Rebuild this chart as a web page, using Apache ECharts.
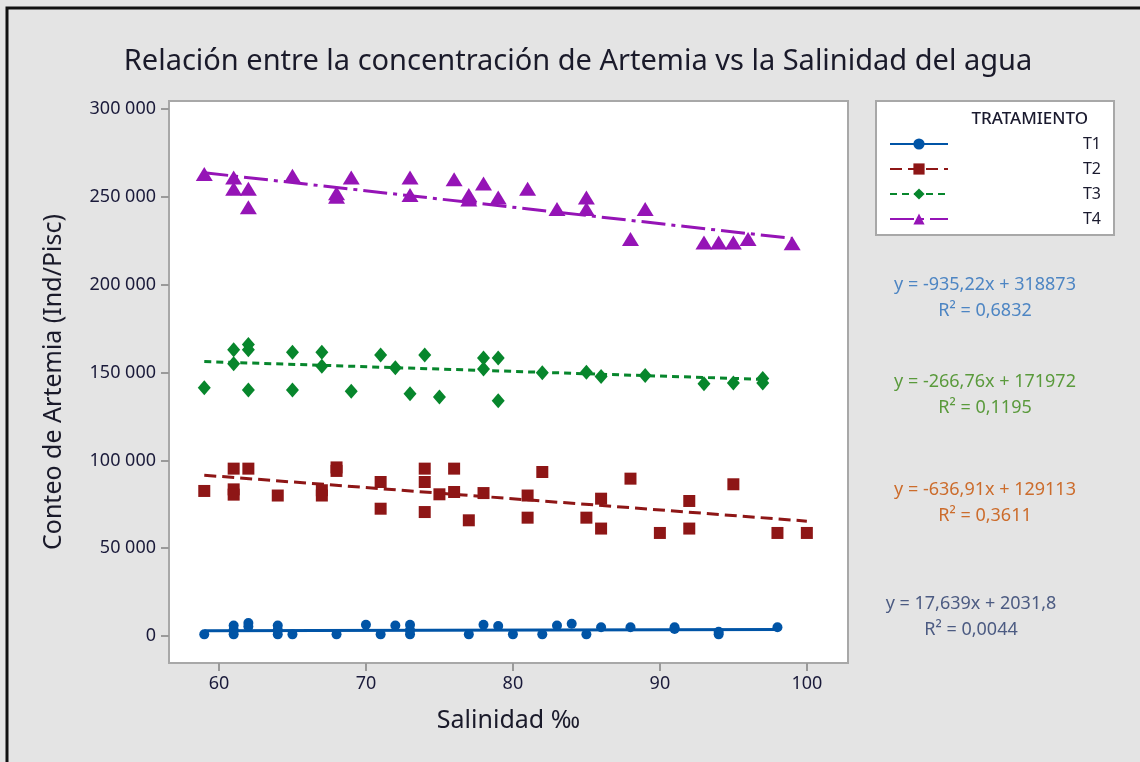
<!DOCTYPE html>
<html>
<head>
<meta charset="utf-8">
<script src="https://cdn.jsdelivr.net/npm/echarts@6/dist/echarts.min.js"></script>
<style>
  html, body { margin: 0; padding: 0; background: #e4e4e4; }
  #chart { width: 1140px; height: 762px; }
</style>
</head>
<body>
<div id="chart"></div>
<script>
// tratamientos
var names = ['T1', 'T2', 'T3', 'T4'];

// T1: [salinidad, conteo]
var t1 = [[59,1000],[61,6000],[61,3500],[61,1000],[62,7500],[62,5500],[64,6000],[64,3500],[64,1000],
  [65,1000],[68,1000],[70,6500],[71,1000],[72,6000],[73,6500],[73,3500],[73,1000],[77,1000],[78,6500],
  [79,5800],[80,1000],[82,1000],[83,6000],[84,7000],[85,1000],[86,5000],[88,5000],[91,5000],[91,4000],
  [94,2500],[94,1000],[98,5000]];
var t2 = [[59,82600],[61,95300],[61,83500],[61,80500],[62,95300],[64,80000],[67,83000],[67,80000],
  [68,96000],[68,94000],[71,87700],[71,72500],[74,95300],[74,87700],[74,70600],[75,80700],[76,95300],
  [76,82000],[77,65900],[78,81400],[81,80000],[81,67400],[82,93400],[85,67400],[86,78200],[86,61200],
  [88,89600],[90,58700],[92,76900],[92,61200],[95,86400],[98,58700],[100,58700]];
var t3 = [[59,141300],[61,163000],[61,155000],[62,166000],[62,163000],[62,140000],[65,161500],[65,140000],
  [67,161500],[67,153600],[69,139400],[71,160000],[72,152700],[73,137900],[74,160000],[75,136000],
  [78,158300],[78,152000],[79,158300],[79,134000],[82,149800],[85,150200],[86,147700],[89,148300],
  [93,143600],[95,144000],[97,146600],[97,144000]];
var t4 = [[59,263000],[61,261000],[61,254500],[62,254500],[62,244000],[65,262000],[68,252000],[68,250000],
  [69,261000],[73,261000],[73,251000],[76,260000],[77,251000],[77,248500],[78,257600],[79,249600],
  [81,254500],[83,243000],[85,249600],[85,243000],[88,226000],[89,243000],[93,224000],[94,224000],
  [95,224000],[96,226000],[99,223500]];

// ajuste lineal de cada tratamiento
var slope = [17.639, -636.91, -266.76, -935.22];
var intercept = [2031.8, 129113, 171972, 318873];
var r2 = ['0,0044', '0,3611', '0,1195', '0,6832'];

var yTicks = [0, 50000, 100000, 150000, 200000, 250000, 300000];
var xTicks = [60, 70, 80, 90, 100];

var colors = ['#0054a6', '#8e1616', '#07862c', '#9514b6'];
var symbols = ['circle', 'rect', 'diamond', 'triangle'];
var symSizes = [10, 12, [13, 15], [17, 14]];
var dashes = ['solid', [12, 6], [7, 5], [24, 6, 4, 6]];
var eqColors = ['#4c5b82', '#cc6c2c', '#5a9a3c', '#4d85c3'];
var eqX = [971, 985, 985, 985];
var eqY = [604, 490, 382, 285];

var data = [t1, t2, t3, t4];
var chart = echarts.init(document.getElementById('chart'));

function fmt(v) { return String(v).replace('.', ','); }

var series = [];
names.forEach(function (n, i) {
  var xs = data[i].map(function (p) { return p[0]; });
  var x0 = Math.min.apply(null, xs), x1 = Math.max.apply(null, xs);
  series.push({
    name: n, type: 'line', showSymbol: false, symbol: symbols[i], symbolSize: symSizes[i],
    silent: true, z: 2,
    itemStyle: { color: colors[i] },
    lineStyle: { color: colors[i], width: 3, type: dashes[i] },
    data: [[x0, slope[i] * x0 + intercept[i]], [x1, slope[i] * x1 + intercept[i]]]
  });
  series.push({
    name: n, type: 'scatter', symbol: symbols[i], symbolSize: symSizes[i], z: 3,
    itemStyle: { color: colors[i], opacity: 1 },
    data: data[i]
  });
});

var graphics = [
  { type: 'polyline', shape: { points: [[7, 762], [7, 8], [1140, 8]] }, style: { fill: 'none', stroke: '#111', lineWidth: 3 }, silent: true },
  { type: 'rect', left: 875, top: 100, shape: { width: 238, height: 134 }, style: { fill: '#fff', stroke: '#a8a8a8', lineWidth: 2 }, z: 1 },
  { type: 'text', x: 1088, y: 119, style: { text: 'TRATAMIENTO', fill: '#1a1a2e', font: '500 17px "Noto Sans"', align: 'right', verticalAlign: 'middle' }, z: 5 }
];
names.forEach(function (n, i) {
  graphics.push({
    type: 'text', x: eqX[i], y: eqY[i], z: 5,
    style: { text: 'y = ' + fmt(slope[i]) + 'x + ' + fmt(intercept[i]), fill: eqColors[i],
      font: '18px "Noto Sans"', align: 'center', verticalAlign: 'middle' }
  });
  graphics.push({
    type: 'text', x: eqX[i], y: eqY[i] + 26, z: 5,
    style: { text: 'R\u00b2 = ' + r2[i], fill: eqColors[i],
      font: '18px "Noto Sans"', align: 'center', verticalAlign: 'middle' }
  });
});

var option = {
  backgroundColor: '#e4e4e4',
  animation: false,
  title: {
    text: 'Relación entre la concentración de Artemia vs la Salinidad del agua',
    left: 573, top: 42, textAlign: 'center',
    textStyle: { color: '#1a1a2a', fontSize: 29, fontWeight: 'normal', fontFamily: 'Noto Sans' }
  },
  grid: { left: 169, top: 101, right: 292, bottom: 99, show: true, backgroundColor: '#fff', borderColor: '#a8a8a8', borderWidth: 2 },
  legend: {
    data: names, orient: 'vertical', left: 884, top: 131, itemWidth: 58, itemHeight: 14, itemGap: 9,
    z: 6, selectedMode: false,
    formatter: '{a|{name}}',
    textStyle: { rich: { a: { width: 148, align: 'right', fontSize: 16, color: '#1a1a2e', fontFamily: 'Noto Sans' } } }
  },
  xAxis: {
    type: 'value', min: 56.6, max: 102.8,
    name: 'Salinidad ‰', nameLocation: 'middle', nameGap: 45,
    nameTextStyle: { fontSize: 25, color: '#1a1a2a', fontFamily: 'Noto Sans' },
    axisLine: { show: true, onZero: false, lineStyle: { color: '#a8a8a8', width: 2 } },
    axisTick: { show: true, length: 8, customValues: xTicks, lineStyle: { color: '#9a9a9a', width: 2 } },
    axisLabel: { customValues: xTicks, fontSize: 18, color: '#1a1a3a', margin: 12, fontFamily: 'Noto Sans' },
    splitLine: { show: false }
  },
  yAxis: {
    type: 'value', min: -15300, max: 304500,
    name: 'Conteo de Artemia (Ind/Pisc)', nameLocation: 'middle', nameGap: 103, nameRotate: 90,
    nameTextStyle: { fontSize: 25, color: '#1a1a2a', fontFamily: 'Noto Sans' },
    axisLine: { show: true, onZero: false, lineStyle: { color: '#a8a8a8', width: 2 } },
    axisTick: { show: true, length: 8, customValues: yTicks, lineStyle: { color: '#9a9a9a', width: 2 } },
    axisLabel: { customValues: yTicks, fontSize: 18, color: '#1a1a3a', margin: 13, fontFamily: 'Noto Sans',
      formatter: function (v) { return v >= 1000 ? String(Math.floor(v / 1000)) + ' ' + '000' : String(v); } },
    splitLine: { show: false }
  },
  graphic: graphics,
  series: series
};
chart.setOption(option);
</script>
</body>
</html>
